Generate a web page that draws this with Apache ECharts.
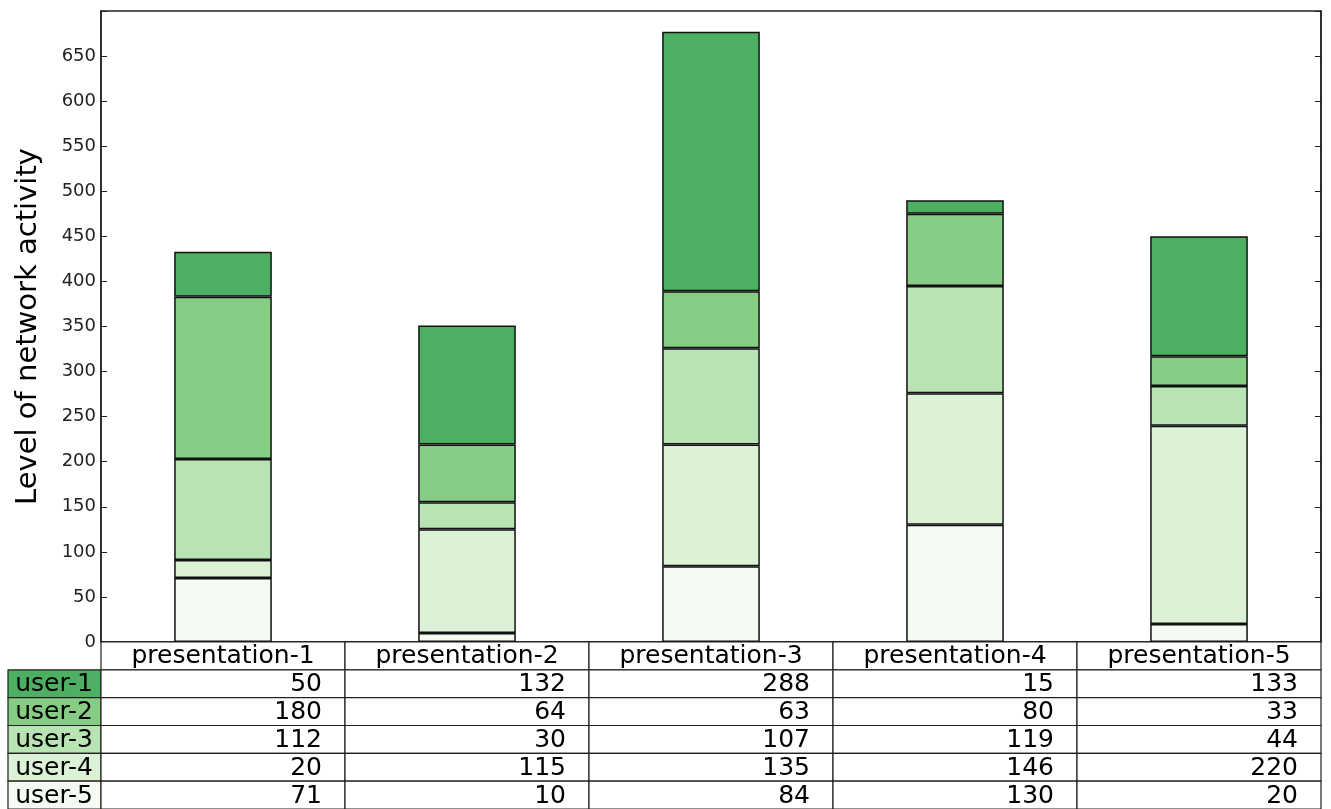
<!DOCTYPE html>
<html><head><meta charset="utf-8">
<script src="https://cdn.jsdelivr.net/npm/echarts@6/dist/echarts.min.js"></script>
<style>html,body{margin:0;padding:0;background:#fff}#c{width:1331px;height:809px}</style>
</head><body><div id="c"></div>
<script>
const categories = ['presentation-1','presentation-2','presentation-3','presentation-4','presentation-5'];
const rowNames = ['user-1','user-2','user-3','user-4','user-5'];
const user1 = [50, 132, 288, 15, 133];
const user2 = [180, 64, 63, 80, 33];
const user3 = [112, 30, 107, 119, 44];
const user4 = [20, 115, 135, 146, 220];
const user5 = [71, 10, 84, 130, 20];
const rowValues = [user1, user2, user3, user4, user5];
const rowColors = ['#4caf61', '#86cc85', '#b8e3b2', '#dcf2d7', '#f5fbf3'];
const yTicks = [0,50,100,150,200,250,300,350,400,450,500,550,600,650];

const FONT = 'DejaVu Sans';
const chart = echarts.init(document.getElementById('c'), null, {renderer:'canvas'});

// stack from bottom: user-5 .. user-1
const series = [];
for (let i = rowNames.length - 1; i >= 0; i--) {
  series.push({
    name: rowNames[i], type: 'bar', stack: 'all', barWidth: '40%',
    data: rowValues[i],
    itemStyle: {color: rowColors[i], borderColor: '#111', borderWidth: 1.5},
    animation: false
  });
}

chart.setOption({
  animation: false,
  grid: {left: 101, right: 10, top: 11, bottom: 167, show: true, borderColor: '#222', borderWidth: 1.5, backgroundColor: 'transparent'},
  xAxis: {type: 'category', data: categories, axisLine: {show: true, lineStyle: {color: '#222', width: 1.5}},
          axisTick: {show: false}, axisLabel: {show: false}},
  yAxis: [{
    type: 'value', min: 0, max: 700, interval: 50,
    name: 'Level of network activity', nameLocation: 'middle', nameGap: 58,
    nameTextStyle: {fontFamily: FONT, fontSize: 29, color: '#000'},
    axisLine: {show: true, lineStyle: {color: '#222', width: 1.5}},
    axisTick: {show: true, inside: true, length: 6, lineStyle: {color: '#222'}},
    axisLabel: {fontFamily: FONT, fontSize: 18, color: '#222', margin: 5,
      formatter: v => yTicks.indexOf(v) >= 0 ? String(v) : ''},
    splitLine: {show: false}
  },{
    type: 'value', min: 0, max: 700, interval: 50, position: 'right',
    axisLine: {show: true, lineStyle: {color: '#222', width: 1.5}},
    axisTick: {show: true, inside: true, length: 6, lineStyle: {color: '#222'}},
    axisLabel: {show: false}, splitLine: {show: false}
  }],
  series: series
});

function drawTable() {
  const rect = chart.getModel().getComponent('grid').coordinateSystem.getRect();
  const H = chart.getHeight();
  const top = rect.y + rect.height;
  const rowH = (H - top) / (rowNames.length + 1);
  const colW = rect.width / categories.length;
  const labelLeft = 8;
  const els = [];
  const lineStyle = {fill: '#fff', stroke: '#222', lineWidth: 1.2};
  const tf = '25px ' + FONT;
  categories.forEach((c, j) => {
    const x = rect.x + j * colW;
    els.push({type: 'rect', shape: {x: x, y: top, width: colW, height: rowH}, style: lineStyle, z: 10});
    els.push({type: 'text', x: x + colW / 2, y: top + rowH / 2 + 1, z: 11,
      style: {text: c, font: tf, fill: '#000', align: 'center', verticalAlign: 'middle'}});
  });
  rowNames.forEach((r, i) => {
    const y = top + (i + 1) * rowH;
    els.push({type: 'rect', shape: {x: labelLeft, y: y, width: rect.x - labelLeft, height: rowH},
      style: {fill: rowColors[i], stroke: '#222', lineWidth: 1.2}, z: 10});
    els.push({type: 'text', x: rect.x - 8, y: y + rowH / 2 + 1, z: 11,
      style: {text: r, font: tf, fill: '#000', align: 'right', verticalAlign: 'middle'}});
    rowValues[i].forEach((v, j) => {
      const x = rect.x + j * colW;
      els.push({type: 'rect', shape: {x: x, y: y, width: colW, height: rowH}, style: lineStyle, z: 10});
      els.push({type: 'text', x: x + colW - 23, y: y + rowH / 2 + 1, z: 11,
        style: {text: String(v), font: tf, fill: '#000', align: 'right', verticalAlign: 'middle'}});
    });
  });
  chart.setOption({graphic: {elements: els}});
}
drawTable();
</script></body></html>
